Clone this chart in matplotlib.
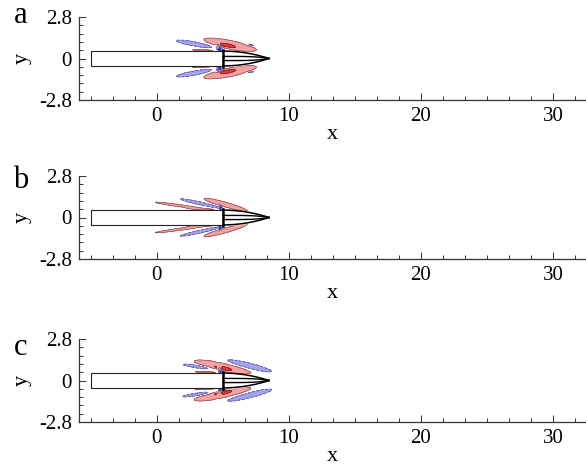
import numpy as np
import matplotlib
matplotlib.use("Agg")
import matplotlib.pyplot as plt
from matplotlib.ticker import MultipleLocator, FixedLocator
from matplotlib.patches import Rectangle

plt.rcParams['font.family'] = ['Liberation Serif', 'DejaVu Serif']

# Axis setup
x_range = (-5.9, 32.5)
y_range = (-2.8, 2.8)
x_major = [0, 10, 20, 30]
y_major = [-2.8, 0, 2.8]
y_tick_labels = ['-2.8', '0', '2.8']
panel_names = ['a', 'b', 'c']

# Body geometry
body_x = [-5.0, 5.0]
body_half = 0.5
nose_tip = 8.5

# Vortical structures (upper half, mirrored about y = 0):
# centre x, centre y, half-length, half-width, tilt (deg), strength
lobes = {
    'a': dict(
        cx=[5.55, 5.2, 3.5, 2.9, 4.8, 7.1],
        cy=[0.93, 0.88, 0.56, 0.98, 0.55, 0.92],
        hl=[2.1, 0.8, 1.5, 1.45, 0.45, 0.45],
        hw=[0.3, 0.12, 0.08, 0.15, 0.15, 0.07],
        ang=[-10, -10, -2, -9, -65, -12],
        amp=[0.75, 0.6, 0.4, -0.8, -1.4, -0.6],
    ),
    'b': dict(
        cx=[5.2, 1.7, 3.3, 3.3, 4.85],
        cy=[0.86, 0.8, 0.95, 0.57, 0.6],
        hl=[1.7, 2.1, 1.75, 1.5, 0.3],
        hw=[0.17, 0.08, 0.11, 0.06, 0.1],
        ang=[-14, -7, -11, -2, -60],
        amp=[0.8, 0.65, -0.65, 0.35, -1.3],
    ),
    'c': dict(
        cx=[7.0, 5.0, 5.0, 3.1, 4.85, 3.6],
        cy=[0.98, 0.92, 0.8, 0.93, 0.6, 0.57],
        hl=[1.85, 2.3, 0.8, 1.3, 0.4, 1.3],
        hw=[0.2, 0.28, 0.12, 0.11, 0.15, 0.07],
        ang=[-12.5, -10, -10, -8, -65, -2],
        amp=[-0.75, 0.75, 0.6, -0.7, -1.4, 0.4],
    ),
}

# Contour levels and colours
levels = [-10, -0.9, -0.3, 0.3, 0.9, 10]
fill_colors = ['#2f2fd8', '#a3a3ee', (1, 1, 1, 0), '#f2a2a2', '#e23a3a']

# Panel placement in pixels (top, bottom of the axes box)
fig_w, fig_h = 586, 467
panel_px = [(17, 100), (176, 259), (339, 422)]
letter_base = [23, 188, 355]
left_px = 79

xg = np.linspace(-6, 12, 720)
yg = np.linspace(-2.8, 2.8, 400)
X, Y = np.meshgrid(xg, yg)


def field(p):
    F = np.zeros_like(X)
    for cx, cy, hl, hw, ang, amp in zip(p['cx'], p['cy'], p['hl'], p['hw'], p['ang'], p['amp']):
        t = np.deg2rad(ang)
        for sy in (1, -1):
            dx = X - cx
            dy = Y - sy * cy
            u = dx * np.cos(t) + sy * dy * np.sin(t)
            v = -dx * np.sin(t) + sy * dy * np.cos(t)
            F += amp * np.exp(-(u / hl) ** 2 - (v / hw) ** 2)
    inside = (X >= body_x[0]) & (X <= body_x[1]) & (np.abs(Y) <= body_half)
    F[inside] = 0
    return F


fig = plt.figure(figsize=(fig_w / 100, fig_h / 100), dpi=100)

for name, (top, bot) in zip(panel_names, panel_px):
    ax = fig.add_axes([left_px / fig_w, 1 - bot / fig_h,
                       1 - left_px / fig_w, (bot - top) / fig_h])
    F = field(lobes[name])
    ax.contourf(X, Y, F, levels=levels, colors=fill_colors, zorder=1)
    ax.contour(X, Y, F, levels=[-0.9, -0.3], colors=['#1a1a80', '#5a5a9a'],
               linestyles='dashed', linewidths=0.6, zorder=2)
    ax.contour(X, Y, F, levels=[0.3, 0.9], colors=['#8a4a4a', '#7a2020'],
               linestyles='solid', linewidths=0.5, zorder=2)

    # cylindrical body
    ax.add_patch(Rectangle((body_x[0], -body_half), body_x[1] - body_x[0], 2 * body_half,
                           facecolor='white', edgecolor='#222222', lw=0.8, zorder=3))
    # nose
    xs = np.linspace(body_x[1], nose_tip, 100)
    s = (xs - body_x[1]) / (nose_tip - body_x[1])
    outer = body_half * (1 - s ** 2)
    inner = 0.14 * (1 - s ** 4)
    ax.fill_between(xs, -outer, outer, color='white', zorder=3)
    for sgn in (1, -1):
        ax.plot(xs, sgn * outer, color='black', lw=1.1, zorder=4)
        ax.plot(xs, sgn * inner, color='black', lw=1.0, zorder=4)
    ax.plot([body_x[1], body_x[1]], [-0.6, 0.6], color='black', lw=1.8, zorder=4)

    ax.set_xlim(*x_range)
    ax.set_ylim(*y_range)
    for sp in ('top', 'right'):
        ax.spines[sp].set_visible(False)
    for sp in ('left', 'bottom'):
        ax.spines[sp].set_color('#333333')
        ax.spines[sp].set_linewidth(0.9)
    ax.xaxis.set_major_locator(FixedLocator(x_major))
    ax.xaxis.set_minor_locator(MultipleLocator(10 / 6))
    ax.yaxis.set_major_locator(FixedLocator(y_major))
    ax.set_yticklabels(y_tick_labels)
    ax.yaxis.set_minor_locator(MultipleLocator(0.56))
    ax.tick_params(which='both', direction='in', color='#333333', width=0.7,
                   labelsize=15, pad=5)
    ax.tick_params(which='major', length=5)
    ax.tick_params(which='minor', length=3)
    ax.set_xlabel('x', fontsize=16, labelpad=-1)
    ax.patch.set_alpha(0)

    y0_px = (top + bot) / 2
    fig.text(22 / fig_w, 1 - y0_px / fig_h, 'y', rotation=90, fontsize=16,
             ha='center', va='center')

for name, base in zip(panel_names, letter_base):
    fig.text(21 / fig_w, 1 - base / fig_h, name, fontsize=22,
             ha='center', va='baseline')

fig.savefig('out.png', dpi=100)
